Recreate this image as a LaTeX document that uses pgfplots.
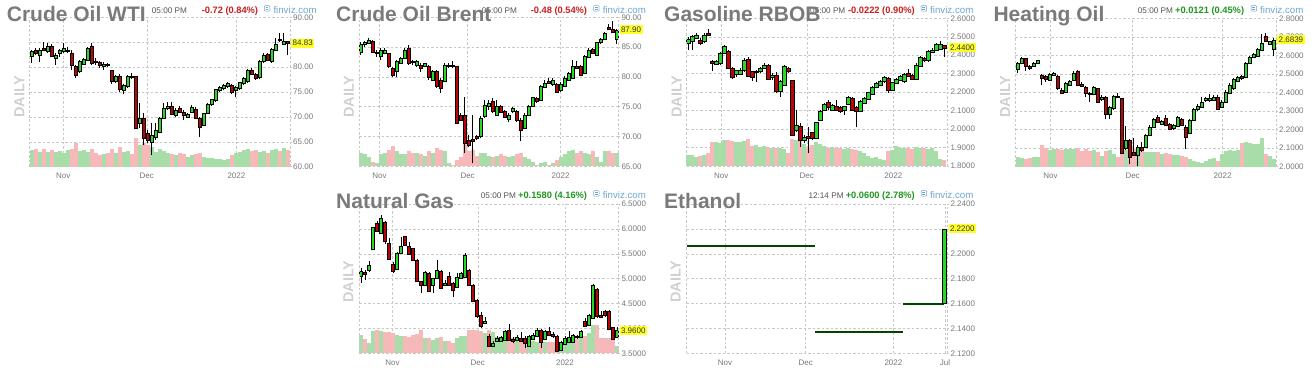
\documentclass[border=0pt]{standalone}
\usepackage{fontspec}
\setmainfont{Liberation Sans}
\usepackage{pgfplots}
\usepackage{pgfplotstable}
\pgfplotsset{compat=1.18}

\definecolor{upg}{RGB}{40,215,40}
\definecolor{dnr}{RGB}{185,5,5}
\definecolor{volg}{RGB}{168,220,168}
\definecolor{volr}{RGB}{246,184,184}
\definecolor{gridc}{RGB}{200,200,200}
\definecolor{labc}{RGB}{120,120,120}
\definecolor{titc}{RGB}{122,122,122}
\definecolor{timec}{RGB}{85,85,85}
\definecolor{chr}{RGB}{200,30,30}
\definecolor{chg}{RGB}{30,150,30}
\definecolor{fvz}{RGB}{110,165,205}
\definecolor{dailyc}{RGB}{208,208,208}
\definecolor{tagc}{RGB}{255,255,40}
\definecolor{ethc}{RGB}{0,70,0}

\pgfdeclareplotmark{candle}{%
  \ifdim\cdlC pt<0pt\relax
    \def\cdlbody{dnr}\def\cdlvol{volr}%
  \else
    \def\cdlbody{upg}\def\cdlvol{volg}%
  \fi
  \pgfsetfillcolor{\cdlvol}%
  \pgfpathrectanglecorners{\pgfqpoint{-2pt}{\cdlB pt}}{\pgfqpoint{2pt}{\cdlV pt}}%
  \pgfusepath{fill}%
  \pgfsetstrokecolor{black}%
  \pgfsetlinewidth{0.7pt}%
  \pgfpathmoveto{\pgfqpoint{0pt}{\cdlL pt}}%
  \pgfpathlineto{\pgfqpoint{0pt}{\cdlH pt}}%
  \pgfusepath{stroke}%
  \pgfsetfillcolor{\cdlbody}%
  \pgfsetlinewidth{0.6pt}%
  \pgfpathrectanglecorners{\pgfqpoint{-1.7pt}{0pt}}{\pgfqpoint{1.7pt}{\cdlC pt}}%
  \pgfusepath{fill,stroke}%
}

\pgfplotsset{
  candles/.style 2 args={
    scatter, only marks, mark=candle,
    scatter/use mapped color={draw=black,fill=black},
    visualization depends on={(\thisrow{h}-\thisrow{o})*(#1) \as \cdlH},
    visualization depends on={(\thisrow{l}-\thisrow{o})*(#1) \as \cdlL},
    visualization depends on={(\thisrow{c}-\thisrow{o})*(#1) \as \cdlC},
    visualization depends on={(\thisrow{v}-\thisrow{o})*(#1) \as \cdlV},
    visualization depends on={((#2)-\thisrow{o})*(#1) \as \cdlB},
  },
  panel/.style={
    scale only axis, anchor=south west,
    axis line style={draw=none},
    grid=major,
    major grid style={draw=gridc, dash pattern=on 2.5pt off 2pt, line width=0.5pt},
    ytick pos=right, yticklabel pos=right,
    xtick pos=bottom,
    tick align=outside, major tick length=2pt,
    ytick style={draw=gridc, line width=0.5pt},
    xtick style={draw=none},
    tick label style={font=\fontsize{8}{9}\selectfont, text=labc},
    yticklabel style={inner xsep=1pt},
    xticklabel style={yshift=-1pt},
    enlargelimits=false, clip=false,
    /pgf/number format/assume math mode=true,
    after end axis/.code={
      \draw[gridc, dash pattern=on 2.5pt off 2pt, line width=0.5pt] (rel axis cs:0,0)--(rel axis cs:0,1) (rel axis cs:1,0)--(rel axis cs:1,1);
    },
  },
  ptwo/.style={yticklabel={\pgfmathprintnumber[fixed,fixed zerofill,precision=2]{\tick}}},
  pfour/.style={yticklabel={\pgfmathprintnumber[fixed,fixed zerofill,precision=4]{\tick}}},
}

\tikzset{
  tag/.style={anchor=west, fill=tagc, inner xsep=1.5pt, inner ysep=1.6pt, font=\fontsize{8}{9}\selectfont, text=black!80, xshift=1pt},
  title/.style={anchor=base west, font=\bfseries\fontsize{21}{22}\selectfont, text=titc, inner sep=0pt},
  timet/.style={anchor=base west, font=\fontsize{8.2}{9}\selectfont, text=timec, inner sep=0pt},
  chg/.style={anchor=base east, font=\bfseries\fontsize{9.3}{10}\selectfont, inner sep=0pt},
  fvt/.style={anchor=base west, font=\fontsize{9.7}{10}\selectfont, text=fvz, inner sep=0pt},
  daily/.style={rotate=90, font=\bfseries\fontsize{14.5}{15}\selectfont, text=dailyc, inner sep=0pt},
}
\newcommand\fvicon[2]{%
  \draw[fvz, line width=0.5pt, rounded corners=0.8pt] (#1pt,#2pt) rectangle ++(5.5pt,5.5pt);
  \draw[fvz, line width=0.5pt] (#1pt+1.4pt,#2pt+1.9pt) -- ++(2.7pt,0) (#1pt+1.4pt,#2pt+3.6pt) -- ++(2.7pt,0);
}

% ---------------- data ----------------
\pgfplotstableread{
o h l c v
82.1 83.4 80.8 83.1 63.3
83.4 83.8 82.4 82.8 63.5
82.4 83.8 81.1 83.4 63.0
83.8 85.1 83.3 83.4 63.5
83.1 84.8 82.9 84.2 63.0
84.2 84.6 82.1 82.2 63.3
81.8 82.8 80.4 82.4 63.0
82.8 83.6 82.1 83.4 63.2
83.1 84.8 82.9 83.8 62.7
83.2 84.1 82.8 83.4 63.3
82.8 83.4 79.4 80.4 63.5
80.1 80.4 77.9 78.4 64.7
79.1 81.4 78.8 81.1 63.2
80.6 81.8 80.4 81.6 63.3
81.4 84.1 81.3 83.8 63.0
84.2 84.8 80.4 80.8 63.5
81.2 81.8 80.4 81.0 62.7
81.0 81.2 79.8 80.4 62.3
80.2 81.1 79.4 80.6 62.5
80.6 80.8 80.1 80.4 62.7
79.4 79.4 76.7 77.1 63.5
77.1 78.4 76.9 78.1 62.7
78.1 78.6 75.1 75.5 64.0
75.4 76.7 74.7 76.4 63.0
76.1 78.4 75.9 78.2 63.2
78.2 78.9 77.7 77.9 62.5
78.1 78.2 67.5 67.7 65.7
68.7 72.7 67.7 69.7 64.4
69.7 70.7 64.3 65.7 64.7
66.7 67.4 64.7 65.4 64.4
65.0 68.7 62.3 66.4 64.0
66.0 68.7 65.4 67.4 63.0
67.0 70.0 66.7 69.7 63.5
69.7 72.7 69.5 71.7 63.2
71.7 73.1 71.4 72.2 62.7
72.2 73.1 70.4 70.6 62.5
70.4 71.7 70.0 71.4 62.3
71.7 72.2 70.7 71.0 62.7
71.0 71.4 69.4 70.4 62.5
69.9 70.8 69.7 70.6 62.0
71.0 72.4 70.8 71.9 62.3
71.6 71.9 69.5 69.7 62.5
69.7 70.0 66.0 68.0 62.7
68.4 70.8 68.2 70.7 62.0
70.7 72.7 70.6 72.5 61.8
72.5 73.7 72.2 73.5 61.7
73.4 75.7 73.1 75.5 61.6
75.4 76.2 75.1 75.9 61.5
75.7 76.7 75.5 76.4 61.3
76.2 77.1 75.9 76.7 61.6
76.4 76.7 74.7 74.9 62.3
75.3 76.2 74.1 75.9 62.7
75.7 77.1 75.5 76.9 63.0
76.7 78.1 76.4 77.7 63.3
77.1 79.6 76.9 79.3 63.5
79.4 79.8 78.4 78.6 63.2
78.6 78.9 77.5 77.7 63.3
77.9 81.4 77.7 81.1 63.0
81.1 82.8 80.9 82.4 63.2
82.6 82.9 81.3 81.4 62.7
81.1 83.8 80.9 83.6 63.3
83.4 85.8 83.3 84.6 63.5
85.6 86.8 85.1 85.3 63.2
84.6 86.8 84.4 85.1 63.7
85.1 85.1 82.4 84.83 63.3
}\wti

\pgfplotstableread{
o h l c v
84.1 85.9 83.7 85.4 67.2
85.4 86.1 85.1 85.8 67.0
85.6 86.5 85.5 86.2 66.5
85.9 86.2 84.0 84.1 65.8
84.0 84.5 83.4 84.2 65.6
83.4 84.8 82.8 84.5 67.0
84.0 84.8 83.9 84.5 67.2
84.0 84.0 81.5 81.7 67.8
81.5 81.7 79.9 80.2 68.4
80.9 82.8 79.9 82.6 67.5
82.3 83.4 82.2 83.1 67.0
83.1 84.8 83.0 84.5 67.0
84.8 85.4 82.0 82.3 67.5
82.7 82.8 82.0 82.4 67.2
82.0 82.8 81.7 82.6 67.2
82.0 82.3 80.9 81.5 67.0
81.7 82.4 81.6 82.2 66.8
81.7 82.0 79.5 79.9 67.5
79.5 81.2 79.4 81.0 67.2
80.9 81.2 78.1 78.4 68.0
79.5 79.8 77.3 78.1 67.8
79.2 82.3 79.1 82.0 67.5
81.7 82.3 81.5 82.0 65.5
82.0 82.6 81.5 81.7 65.3
81.7 81.8 72.1 72.2 66.0
73.6 73.9 72.7 72.8 66.5
73.6 76.7 67.2 68.9 68.8
69.4 70.3 68.3 68.6 67.5
69.6 73.6 65.5 69.2 67.8
70.1 70.3 69.4 69.7 66.8
70.0 73.4 69.7 73.1 67.2
73.4 76.1 73.1 75.3 67.2
75.0 76.1 74.5 75.5 66.8
75.9 76.4 73.9 74.2 66.5
73.6 76.1 73.5 75.0 66.8
75.0 75.3 73.9 74.0 67.0
74.2 74.5 73.1 73.2 66.8
72.9 73.9 72.5 73.6 66.5
74.2 75.0 74.0 74.7 66.8
74.2 74.5 72.5 72.8 67.0
72.7 73.1 69.2 71.1 67.2
71.4 73.9 71.2 73.6 66.5
73.6 75.3 73.5 75.0 66.2
75.0 76.7 74.9 76.5 65.8
76.4 76.7 75.7 75.9 65.3
76.1 78.7 75.9 78.5 65.5
78.3 79.5 78.1 78.9 65.8
79.2 79.8 78.8 78.9 65.3
78.7 79.8 78.5 79.4 65.6
78.7 78.9 77.3 77.5 66.0
77.8 79.1 77.5 78.8 66.5
78.5 80.1 78.3 79.8 67.0
79.5 80.9 79.4 80.6 67.5
79.8 82.8 79.6 81.8 67.8
81.8 82.6 81.3 81.5 67.2
81.7 82.0 80.2 80.3 67.5
80.6 83.7 80.5 83.4 67.2
83.3 84.8 83.1 84.5 67.0
84.6 84.8 83.9 84.0 67.5
83.7 85.9 83.5 85.8 66.5
85.8 86.5 85.6 86.3 65.8
86.3 87.6 86.2 87.3 67.6
88.3 88.9 87.9 88.0 67.5
88.0 89.3 87.3 87.4 67.3
86.3 88.0 85.6 87.9 67.2
}\brent

\pgfplotstableread{
o h l c v
2.465 2.501 2.429 2.486 1.860
2.474 2.510 2.429 2.504 1.860
2.492 2.519 2.486 2.510 1.850
2.483 2.492 2.456 2.465 1.855
2.474 2.519 2.468 2.510 1.860
2.519 2.540 2.504 2.510 1.870
2.369 2.374 2.315 2.356 1.930
2.353 2.374 2.347 2.366 1.930
2.356 2.419 2.347 2.410 1.925
2.410 2.456 2.407 2.447 1.940
2.419 2.429 2.324 2.329 1.940
2.329 2.338 2.270 2.281 1.935
2.299 2.320 2.281 2.317 1.930
2.299 2.329 2.293 2.320 1.930
2.317 2.383 2.311 2.374 1.935
2.378 2.392 2.281 2.284 1.945
2.311 2.317 2.262 2.281 1.910
2.306 2.320 2.257 2.315 1.915
2.311 2.338 2.306 2.329 1.905
2.329 2.360 2.324 2.347 1.910
2.347 2.353 2.266 2.271 1.905
2.281 2.302 2.266 2.293 1.900
2.293 2.311 2.194 2.203 1.895
2.203 2.266 2.176 2.257 1.900
2.239 2.347 2.234 2.338 1.890
2.329 2.338 2.306 2.311 1.870
2.262 2.266 1.963 1.968 1.945
1.995 2.104 1.986 2.022 1.940
2.017 2.031 1.905 1.941 1.945
1.938 1.968 1.923 1.956 1.920
1.963 2.013 1.869 1.950 1.905
1.981 1.986 1.941 1.950 1.915
1.950 2.040 1.945 2.035 1.930
2.049 2.104 2.045 2.095 1.920
2.104 2.143 2.100 2.136 1.910
2.143 2.158 2.104 2.118 1.900
2.104 2.136 2.100 2.131 1.905
2.125 2.158 2.100 2.104 1.900
2.118 2.125 2.086 2.095 1.895
2.104 2.125 2.077 2.122 1.890
2.136 2.179 2.131 2.172 1.895
2.167 2.172 2.100 2.104 1.890
2.118 2.125 2.013 2.095 1.885
2.095 2.158 2.090 2.149 1.880
2.140 2.176 2.136 2.167 1.870
2.161 2.203 2.158 2.197 1.855
2.190 2.234 2.185 2.226 1.845
2.226 2.257 2.221 2.248 1.850
2.239 2.266 2.234 2.257 1.840
2.257 2.288 2.252 2.281 1.830
2.275 2.284 2.197 2.212 1.880
2.212 2.257 2.208 2.252 1.885
2.248 2.275 2.244 2.270 1.910
2.266 2.293 2.262 2.284 1.900
2.257 2.306 2.252 2.299 1.900
2.302 2.324 2.281 2.284 1.895
2.293 2.299 2.266 2.270 1.890
2.270 2.356 2.266 2.347 1.905
2.342 2.396 2.338 2.389 1.900
2.383 2.392 2.365 2.371 1.895
2.371 2.429 2.365 2.419 1.890
2.414 2.438 2.410 2.429 1.895
2.429 2.468 2.425 2.461 1.880
2.432 2.479 2.429 2.461 1.840
2.452 2.456 2.392 2.440 1.830
}\gas

\pgfplotstableread{
o h l c v
2.524 2.566 2.506 2.557 2.054
2.557 2.593 2.553 2.584 2.045
2.584 2.589 2.517 2.542 2.040
2.542 2.548 2.521 2.530 2.045
2.542 2.566 2.539 2.560 2.055
2.557 2.578 2.553 2.575 2.055
2.494 2.499 2.440 2.476 2.117
2.488 2.494 2.458 2.470 2.100
2.467 2.506 2.463 2.499 2.090
2.494 2.512 2.488 2.506 2.095
2.488 2.494 2.416 2.422 2.095
2.413 2.422 2.391 2.395 2.090
2.404 2.458 2.398 2.449 2.095
2.440 2.470 2.434 2.463 2.095
2.467 2.517 2.463 2.506 2.095
2.512 2.524 2.434 2.440 2.100
2.443 2.458 2.431 2.436 2.085
2.427 2.434 2.377 2.398 2.095
2.398 2.404 2.350 2.391 2.085
2.391 2.434 2.386 2.427 2.090
2.422 2.427 2.344 2.350 2.080
2.362 2.386 2.355 2.377 2.060
2.377 2.380 2.259 2.281 2.085
2.281 2.326 2.259 2.319 2.090
2.314 2.386 2.308 2.380 2.070
2.380 2.395 2.368 2.373 2.050
2.368 2.373 2.070 2.074 2.105
2.097 2.218 2.092 2.142 2.090
2.142 2.151 2.016 2.052 2.105
2.079 2.157 2.056 2.061 2.095
2.061 2.115 2.002 2.106 2.090
2.106 2.133 2.079 2.088 2.085
2.106 2.178 2.103 2.169 2.080
2.169 2.223 2.164 2.214 2.080
2.214 2.265 2.211 2.256 2.080
2.265 2.277 2.236 2.241 2.080
2.229 2.254 2.223 2.247 2.070
2.259 2.277 2.218 2.223 2.075
2.229 2.236 2.196 2.200 2.070
2.205 2.232 2.196 2.223 2.065
2.218 2.272 2.214 2.265 2.065
2.254 2.265 2.218 2.223 2.060
2.214 2.223 2.097 2.160 2.055
2.178 2.259 2.175 2.250 2.040
2.250 2.319 2.247 2.308 2.030
2.308 2.337 2.301 2.326 2.025
2.323 2.377 2.319 2.350 2.020
2.359 2.377 2.350 2.368 2.030
2.359 2.391 2.350 2.368 2.040
2.359 2.386 2.355 2.377 2.045
2.377 2.386 2.304 2.308 2.030
2.319 2.359 2.314 2.350 2.070
2.350 2.413 2.344 2.404 2.085
2.398 2.449 2.395 2.440 2.090
2.422 2.476 2.416 2.470 2.085
2.463 2.488 2.458 2.481 2.090
2.488 2.494 2.470 2.476 2.126
2.481 2.566 2.476 2.557 2.135
2.557 2.596 2.553 2.589 2.130
2.589 2.614 2.584 2.607 2.125
2.596 2.638 2.593 2.632 2.125
2.629 2.715 2.625 2.668 2.153
2.704 2.723 2.672 2.677 2.070
2.661 2.679 2.656 2.674 2.060
2.632 2.692 2.596 2.6839 2.040
}\heat

\pgfplotstableread{
o h l c v
5.042 5.209 4.908 5.142 3.87
5.129 5.176 4.975 5.089 3.78
5.176 5.356 5.129 5.276 3.70
5.597 6.045 5.577 6.025 3.95
6.112 6.159 5.945 5.958 3.97
5.911 6.279 5.891 6.212 3.95
6.132 6.159 5.691 5.744 3.92
5.711 5.811 5.376 5.396 3.92
5.289 5.329 5.109 5.156 3.91
5.196 5.543 5.176 5.510 3.87
5.510 5.844 5.490 5.644 3.84
5.844 5.865 5.664 5.677 3.85
5.644 5.744 5.477 5.490 3.83
5.610 5.624 5.356 5.376 3.87
5.376 5.396 4.928 4.941 3.88
4.941 4.955 4.707 4.861 3.97
4.875 5.156 4.861 5.129 3.80
5.109 5.129 4.741 4.754 3.80
4.875 5.022 4.707 5.008 3.77
5.008 5.376 4.995 5.176 3.80
5.156 5.176 4.794 4.808 3.83
4.875 4.975 4.861 4.901 3.75
5.042 5.142 4.861 4.875 3.75
4.908 4.928 4.640 4.774 3.70
4.821 5.109 4.808 5.022 3.80
5.008 5.129 4.995 5.109 3.84
5.022 5.510 5.008 5.477 3.84
5.176 5.196 4.861 4.875 3.97
4.875 4.888 4.527 4.540 3.97
4.574 4.594 4.219 4.239 3.97
4.259 4.339 4.018 4.038 3.95
4.105 4.239 4.085 4.139 3.90
3.838 3.885 3.617 3.637 3.97
3.637 3.738 3.617 3.704 3.93
3.751 3.838 3.738 3.804 3.83
3.738 3.838 3.724 3.818 3.80
3.771 3.972 3.751 3.938 3.84
3.972 4.085 3.751 3.771 3.84
3.791 3.818 3.704 3.751 3.80
3.771 3.871 3.738 3.818 3.78
3.804 3.938 3.738 3.751 3.75
3.804 3.838 3.604 3.704 3.78
3.637 3.858 3.617 3.838 3.76
3.791 3.901 3.771 3.871 3.74
3.838 4.005 3.818 3.972 3.72
3.972 3.992 3.604 3.724 3.75
3.791 3.972 3.771 3.938 3.73
3.938 4.038 3.838 3.858 3.72
3.891 3.938 3.804 3.838 3.73
3.838 3.871 3.537 3.550 3.70
3.570 3.751 3.550 3.724 3.68
3.684 3.838 3.671 3.804 3.75
3.724 3.952 3.704 3.818 3.75
3.724 3.885 3.704 3.871 3.76
3.838 3.871 3.791 3.818 3.78
3.818 3.972 3.804 3.938 3.80
4.139 4.206 4.038 4.052 3.84
4.072 4.286 4.059 4.259 3.90
4.206 4.888 4.192 4.861 4.07
4.794 4.821 4.219 4.239 4.07
4.259 4.353 4.206 4.219 3.80
4.339 4.373 4.239 4.259 3.80
4.339 4.373 3.972 3.992 3.81
4.018 4.038 3.771 3.791 3.81
3.818 4.038 3.804 3.960 3.64
}\ng

\pgfplotstableread{
x o h l c v
257.5 2.16 2.22 2.16 2.22 2.12
}\eth

\begin{document}
\begin{tikzpicture}
\useasboundingbox (0pt,0pt) rectangle (1316pt,384pt);

% ===== Crude Oil WTI =====
\begin{axis}[panel, ptwo, at={(29.3pt,217.3pt)}, width=260.7pt, height=149.3pt,
  xmin=-0.58, xmax=64.6, ymin=60, ymax=90, ytick={60,65,...,90},
  xtick={7.9,28.8,51.2}, xticklabels={Nov,Dec,2022}]
\addplot[candles={149.3/30}{60}] table[x expr=\coordindex, y=o]{\wti};
\coordinate (tagA) at (axis cs:64.6,84.83);
\end{axis}
\node[tag] at (tagA) {84.83};

% ===== Crude Oil Brent =====
\begin{axis}[panel, ptwo, at={(359.3pt,217.7pt)}, width=259pt, height=149pt,
  xmin=-0.33, xmax=64.42, ymin=65, ymax=90, ytick={65,70,...,90},
  xtick={4.7,26.75,50}, xticklabels={Nov,Dec,2022}]
\addplot[candles={149/25}{65}] table[x expr=\coordindex, y=o]{\brent};
\coordinate (tagB) at (axis cs:64.42,87.90);
\end{axis}
\node[tag] at (tagB) {87.90};

% ===== Gasoline RBOB =====
\begin{axis}[panel, pfour, at={(686.7pt,218pt)}, width=260.6pt, height=147.7pt,
  xmin=-0.42, xmax=64.73, ymin=1.8, ymax=2.6, ytick={1.8,1.9,2.0,2.1,2.2,2.3,2.4,2.5,2.6},
  xtick={8.2,29.6,51.25}, xticklabels={Nov,Dec,2022}]
\addplot[candles={147.7/0.8}{1.8}] table[x expr=\coordindex, y=o]{\gas};
\coordinate (tagC) at (axis cs:64.73,2.44);
\end{axis}
\node[tag] at (tagC) {2.4400};

% ===== Heating Oil =====
\begin{axis}[panel, pfour, at={(1015.3pt,217.3pt)}, width=260.7pt, height=148.3pt,
  xmin=-0.58, xmax=64.6, ymin=2.0, ymax=2.8, ytick={2.0,2.1,2.2,2.3,2.4,2.5,2.6,2.7,2.8},
  xtick={8.2,28.75,51.25}, xticklabels={Nov,Dec,2022}]
\addplot[candles={148.3/0.8}{2.0}] table[x expr=\coordindex, y=o]{\heat};
\coordinate (tagD) at (axis cs:64.6,2.6839);
\end{axis}
\node[tag] at (tagD) {2.6839};

% ===== Natural Gas =====
\begin{axis}[panel, pfour, at={(359.3pt,30.7pt)}, width=259pt, height=149.3pt,
  xmin=-0.42, xmax=64.33, ymin=3.5, ymax=6.5, ytick={3.5,4.0,4.5,5.0,5.5,6.0,6.5},
  xtick={7.9,29.2,51}, xticklabels={Nov,Dec,2022}]
\addplot[candles={149.3/3}{3.5}] table[x expr=\coordindex, y=o]{\ng};
\coordinate (tagE) at (axis cs:64.33,3.96);
\end{axis}
\node[tag] at (tagE) {3.9600};

% ===== Ethanol =====
\begin{axis}[panel, pfour, at={(686.7pt,30.7pt)}, width=260.6pt, height=149.3pt,
  xmin=0, xmax=260.6, ymin=2.12, ymax=2.24, ytick={2.12,2.14,2.16,2.18,2.20,2.22,2.24},
  xtick={38.3,119,206.7,258.3}, xticklabels={Nov,Dec,2022,Jul}]
\addplot[ethc, line width=2pt] coordinates {(0,2.2065) (128.3,2.2065)};
\addplot[ethc, line width=2pt] coordinates {(128.3,2.137) (216,2.137)};
\addplot[ethc, line width=2pt] coordinates {(216,2.16) (257.5,2.16)};
\addplot[candles={149.3/0.12}{2.12}] table[x=x, y=o]{\eth};
\coordinate (tagF) at (axis cs:260.6,2.22);
\end{axis}
\node[tag] at (tagF) {2.2200};

% ===== headers =====
% WTI
\node[timet] at (151.7pt,370.7pt) {05:00 PM};
\node[chg, text=chr] at (258.3pt,370.7pt) {-0.72 (0.84\%)};
\fvicon{264.3}{372.8}
\node[fvt] at (273.3pt,370.7pt) {finviz.com};
\node[title] at (6.7pt,362.3pt) {Crude Oil WTI};
\node[daily] at (19.3pt,287.3pt) {DAILY};
% Brent
\node[timet] at (481.7pt,370.7pt) {05:00 PM};
\node[chg, text=chr] at (587.3pt,370.7pt) {-0.48 (0.54\%)};
\fvicon{593.6}{372.8}
\node[fvt] at (602.6pt,370.7pt) {finviz.com};
\node[title] at (336pt,362.3pt) {Crude Oil Brent};
\node[daily] at (349pt,287.3pt) {DAILY};
% Gasoline
\node[timet] at (810pt,370.7pt) {05:00 PM};
\node[chg, text=chr] at (915pt,370.7pt) {-0.0222 (0.90\%)};
\fvicon{921}{372.8}
\node[fvt] at (930pt,370.7pt) {finviz.com};
\node[title] at (664pt,362.3pt) {Gasoline RBOB};
\node[daily] at (676.7pt,287.3pt) {DAILY};
% Heating
\node[timet] at (1137.7pt,370.7pt) {05:00 PM};
\node[chg, text=chg] at (1244.3pt,370.7pt) {+0.0121 (0.45\%)};
\fvicon{1251}{372.8}
\node[fvt] at (1260pt,370.7pt) {finviz.com};
\node[title] at (993.3pt,362.3pt) {Heating Oil};
\node[daily] at (1005pt,287.3pt) {DAILY};
% Natural Gas
\node[timet] at (480.7pt,185.7pt) {05:00 PM};
\node[chg, text=chg] at (587.3pt,185.7pt) {+0.1580 (4.16\%)};
\fvicon{593.6}{187.8}
\node[fvt] at (602.6pt,185.7pt) {finviz.com};
\node[title] at (336pt,175.7pt) {Natural Gas};
\node[daily] at (348.3pt,102.3pt) {DAILY};
% Ethanol
\node[timet] at (808.3pt,185.7pt) {12:14 PM};
\node[chg, text=chg] at (915pt,185.7pt) {+0.0600 (2.78\%)};
\fvicon{921}{187.8}
\node[fvt] at (930pt,185.7pt) {finviz.com};
\node[title] at (664pt,175.7pt) {Ethanol};
\node[daily] at (675.7pt,102.3pt) {DAILY};
\end{tikzpicture}
\end{document}
